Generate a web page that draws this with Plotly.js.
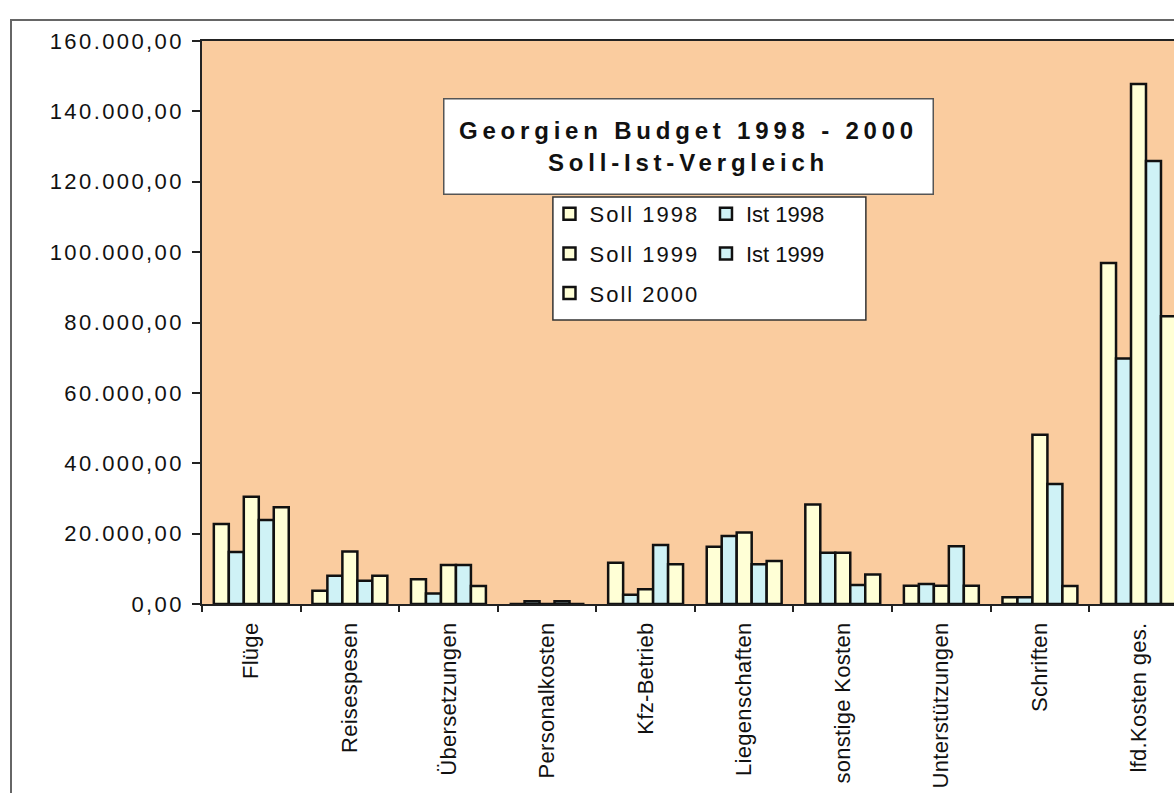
<!DOCTYPE html>
<html>
<head>
<meta charset="utf-8">
<script src="https://cdn.plot.ly/plotly-3.0.1.min.js"></script>
<style>
  html, body { margin: 0; padding: 0; background: #fff; overflow: hidden; }
  #chart { width: 1174px; height: 793px; }
  .ytick text { letter-spacing: 2.4px; }
  .xtick text { letter-spacing: 0.3px; }
  .legendtext { letter-spacing: 2px; }
  .annotation-text { letter-spacing: 4.8px; }
</style>
</head>
<body>
<div id="chart"></div>
<script>
const categories = ['Flüge', 'Reisespesen', 'Übersetzungen', 'Personalkosten', 'Kfz-Betrieb',
  'Liegenschaften', 'sonstige Kosten', 'Unterstützungen', 'Schriften', 'lfd.Kosten ges.'];
const soll1998 = [22700, 3800, 7000, 0, 11700, 16300, 28300, 5200, 1900, 96900];
const ist1998  = [14800, 8000, 3000, 800, 2600, 19300, 14600, 5700, 1900, 69800];
const soll1999 = [30500, 14900, 11100, 0, 4200, 20300, 14600, 5200, 48100, 147800];
const ist1999  = [23900, 6600, 11100, 800, 16800, 11300, 5400, 16400, 34100, 125900];
const soll2000 = [27500, 8000, 5100, 0, 11300, 12200, 8400, 5200, 5100, 81800];
const seriesNames = ['Soll 1998', 'Ist 1998', 'Soll 1999', 'Ist 1999', 'Soll 2000'];
const chartTitle = 'Georgien Budget 1998 - 2000<br>Soll-Ist-Vergleich';

const SOLL = '#FFFFD6', IST = '#CFF2F6';
const series = [soll1998, ist1998, soll1999, ist1999, soll2000];
const fills = [SOLL, IST, SOLL, IST, SOLL];
const legends = ['legend', 'legend2', 'legend', 'legend2', 'legend'];

const traces = series.map((vals, i) => ({
  type: 'bar',
  name: seriesNames[i],
  x: categories,
  y: vals,
  legend: legends[i],
  legendgroup: 'g' + i,
  marker: { color: fills[i], line: { color: '#111', width: 2.5 } },
  hoverinfo: 'x+y+name'
}));

const FONT = 'Arial, "Liberation Sans", sans-serif';
const legendCommon = {
  orientation: 'v', xanchor: 'left', yanchor: 'top',
  bgcolor: 'rgba(0,0,0,0)', borderwidth: 0,
  font: { family: FONT, size: 22, color: '#111' },
  traceorder: 'grouped', tracegroupgap: 8, itemclick: false, itemdoubleclick: false
};

const layout = {
  width: 1174, height: 793,
  margin: { l: 202, r: 0, t: 41, b: 189 },
  paper_bgcolor: '#ffffff',
  plot_bgcolor: '#FACC9F',
  separators: ',.',
  barmode: 'group', bargap: 0.24, bargroupgap: 0,
  font: { family: FONT, color: '#111' },
  xaxis: {
    type: 'category', range: [-0.5, 9.36],
    tickangle: -90, tickson: 'boundaries', ticks: 'outside', ticklen: 6, tickwidth: 1.5, tickcolor: '#222',
    ticklabelstandoff: 8,
    showline: true, linecolor: '#222', linewidth: 1.5, mirror: true,
    showgrid: false, tickfont: { family: FONT, size: 22, color: '#111' }
  },
  yaxis: {
    range: [0, 160000], dtick: 20000, tickformat: ',.2f',
    ticks: 'outside', ticklen: 8, tickwidth: 1.5, tickcolor: '#222',
    ticklabelstandoff: 4,
    showline: true, linecolor: '#222', linewidth: 1.5,
    showgrid: false, zeroline: false, tickfont: { family: FONT, size: 22, color: '#111' }
  },
  legend: Object.assign({}, legendCommon, { x: 0.3575, y: 0.73 }),
  legend2: Object.assign({}, legendCommon, { x: 0.5185, y: 0.73 }),
  shapes: [
    { type: 'rect', xref: 'paper', yref: 'paper', x0: -0.1965, x1: 1.2, y0: -0.5, y1: 1.0373,
      line: { color: '#666', width: 2 }, fillcolor: 'rgba(0,0,0,0)', layer: 'below' },
    { type: 'rect', xref: 'paper', yref: 'paper', x0: 0.361, x1: 0.683, y0: 0.5044, y1: 0.7229,
      line: { color: '#333', width: 1.5 }, fillcolor: '#ffffff', layer: 'above' }
  ],
  annotations: [
    { xref: 'paper', yref: 'paper', x: 0.5, y: 0.813, xanchor: 'center', yanchor: 'middle',
      text: '<b>' + chartTitle.replace('<br>', '</b><br><b>') + '</b>', showarrow: false,
      font: { family: FONT, size: 24, color: '#111' },
      bgcolor: '#ffffff', bordercolor: '#555', borderwidth: 1.5, borderpad: 2,
      width: 484, height: 90, align: 'center' }
  ]
};

Plotly.newPlot('chart', traces, layout, { displayModeBar: false, staticPlot: false });
</script>
</body>
</html>
